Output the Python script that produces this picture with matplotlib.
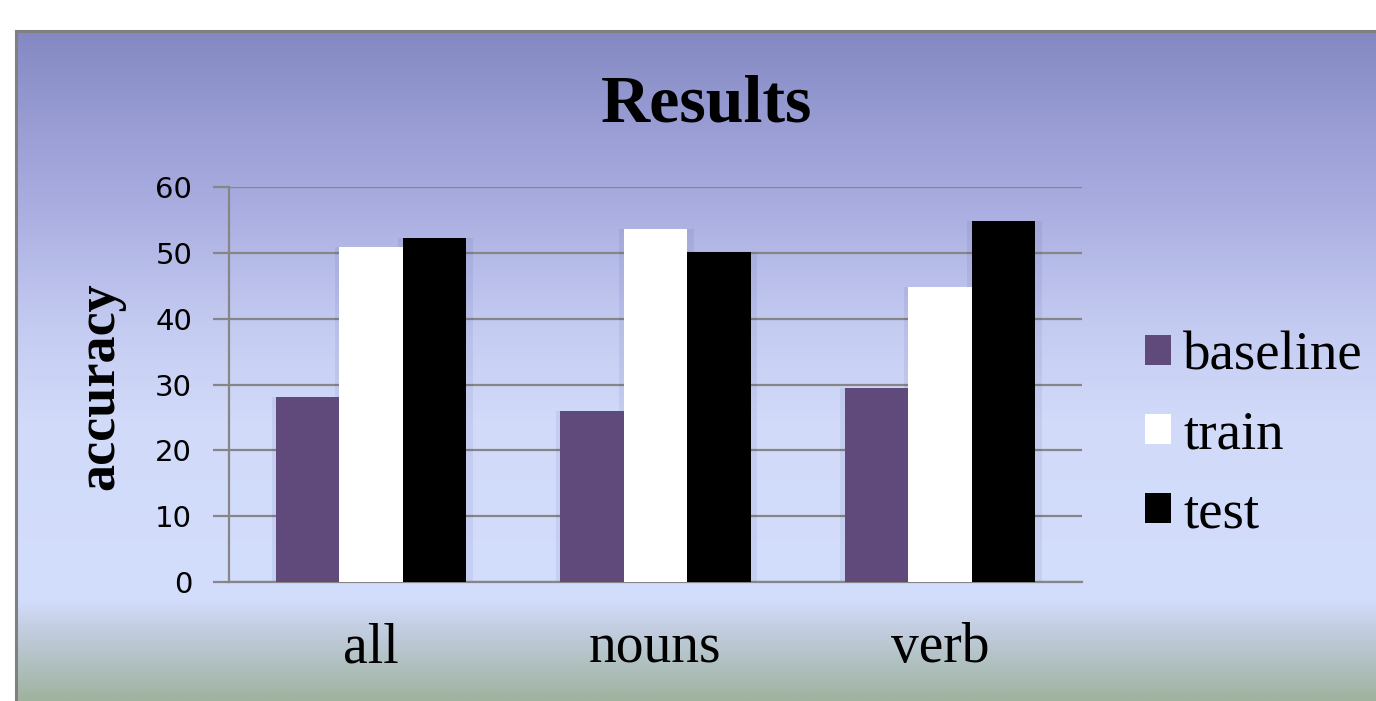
import numpy as np
import matplotlib
matplotlib.use("Agg")
import matplotlib.pyplot as plt
from matplotlib.colors import to_rgb

# ---- data ----
categories = ["all", "nouns", "verb"]
series_names = ["baseline", "train", "test"]
baseline = [28.1, 26.0, 29.5]
train = [50.9, 53.6, 44.8]
test = [52.3, 50.2, 54.9]
yticks = [0, 10, 20, 30, 40, 50, 60]

colors = ["#604a7b", "#ffffff", "#000000"]
GRAY = "#868686"

W, H, DPI = 1376, 701, 100
fig = plt.figure(figsize=(W / DPI, H / DPI), dpi=DPI)
fig.patch.set_facecolor("white")

def fx(px):
    return px / W

def fy(py):
    return (H - py) / H

# ---- background gradient frame ----
frame_left, frame_top = 16, 31
bg = fig.add_axes([fx(frame_left), 0, 1 - fx(frame_left), fy(frame_top)])
stops_y = [31, 100, 200, 330, 420, 600, 627, 660, 701]
stops_c = ["#8489c3", "#9498d0", "#a8acdf", "#c5ccf2", "#d1daf9", "#d3ddfc",
           "#c4cfe3", "#b3c2c4", "#9fb39f"]
ys = np.linspace(frame_top, H, 400)
rgb = np.array([to_rgb(c) for c in stops_c])
grad = np.stack([np.interp(ys, stops_y, rgb[:, k]) for k in range(3)], axis=-1)
grad_img = np.repeat(grad[:, None, :], 4, axis=1)
bg.imshow(grad_img, aspect="auto", extent=[0, 1, 0, 1], interpolation="bilinear")
bg.set_xlim(0, 1)
bg.set_ylim(0, 1)
bg.set_xticks([])
bg.set_yticks([])
for s in ["right", "bottom"]:
    bg.spines[s].set_visible(False)
for s in ["left", "top"]:
    bg.spines[s].set_color("#808080")
    bg.spines[s].set_linewidth(2.2)
bg.set_zorder(-5)

# ---- main axes ----
ax_left, ax_right, ax_top, ax_bottom = 229, 1082, 187, 582
ax = fig.add_axes([fx(ax_left), fy(ax_bottom), fx(ax_right - ax_left), (ax_bottom - ax_top) / H])
ax.patch.set_alpha(0)

x = np.arange(len(categories))
bw = 0.223
series = [baseline, train, test]
for i, (vals, c, name) in enumerate(zip(series, colors, series_names)):
    xpos = x + (i - 1) * bw
    ax.bar(xpos + 0.004, vals, width=bw + 0.04, color="#1a2470", alpha=0.07,
           zorder=2, linewidth=0)
    ax.bar(xpos, vals, width=bw, color=c, zorder=3, linewidth=0, label=name)

ax.set_xlim(-0.5, 2.5)
ax.set_ylim(0, 60)
ax.set_yticks(yticks)
ax.set_yticklabels([str(v) for v in yticks], fontsize=21, family="DejaVu Sans")
ax.set_xticks(x)
ax.set_xticklabels(categories, fontsize=40, family="Liberation Serif")
ax.tick_params(axis="x", length=0, pad=29)
ax.tick_params(axis="y", direction="out", length=11.5, width=1.6, color=GRAY, pad=15)
ax.yaxis.grid(True, color=GRAY, linewidth=1.6, zorder=1)
ax.set_axisbelow(True)
for s in ["top", "right"]:
    ax.spines[s].set_visible(False)
for s in ["left", "bottom"]:
    ax.spines[s].set_color(GRAY)
    ax.spines[s].set_linewidth(1.6)

# ---- legend ----
leg = ax.legend(loc="upper left", bbox_to_anchor=(fx(1145), fy(331)),
                bbox_transform=fig.transFigure, frameon=False,
                prop={"family": "Liberation Serif", "size": 39.5},
                handlelength=0.48, handleheight=0.48, handletextpad=0.22,
                labelspacing=0.52, borderpad=0, borderaxespad=0)

# ---- titles ----
fig.text(fx(707), fy(122), "Results", ha="center", va="baseline",
         fontsize=49, fontweight="bold", family="Liberation Serif")
fig.text(fx(100), fy(386), "accuracy", ha="center", va="center", rotation=90,
         fontsize=39, fontweight="bold", family="Liberation Serif")

fig.savefig("out.png", dpi=DPI)
